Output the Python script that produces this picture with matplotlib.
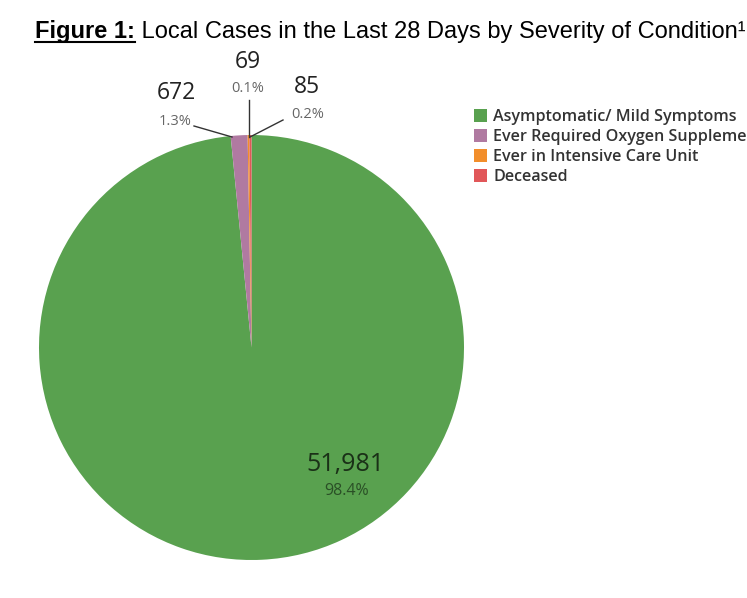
import matplotlib
matplotlib.use("Agg")
import matplotlib.pyplot as plt
from matplotlib.patches import Patch

categories = ["Asymptomatic/ Mild Symptoms", "Ever Required Oxygen Supplementation",
              "Ever in Intensive Care Unit", "Deceased"]
cases = [51981, 672, 69, 85]
pct_labels = ["98.4%", "1.3%", "0.1%", "0.2%"]
colors = ["#59a14f", "#b07aa1", "#f28e2b", "#e15759"]

W, H = 747, 598
fig = plt.figure(figsize=(W / 100, H / 100), dpi=100)

# pie axes, pixel box of the circle
cx, cy, r = 251.5, 347.5, 212.5
ax = fig.add_axes([(cx - r) / W, (H - cy - r) / H, 2 * r / W, 2 * r / H])
ax.pie(cases, colors=colors, startangle=90, counterclock=False, radius=1,
       wedgeprops=dict(linewidth=0))
ax.set_xlim(-1, 1)
ax.set_ylim(-1, 1)
ax.set_aspect("equal")
ax.axis("off")


def px(x, y):
    return ((x - cx) / r, (cy - y) / r)


lab_font = "Open Sans"
# big green label
ax.text(*px(345, 464), f"{cases[0]:,}", ha="center", va="center",
        fontsize=18, color="#1a3017", family=lab_font)
ax.text(*px(347, 491), pct_labels[0], ha="center", va="center",
        fontsize=11.5, color="#2a4f26", family=lab_font)

# outside labels: (value pos, pct pos, leader start, leader end)
outside = [
    (1, (176, 93), (175, 121), (194, 126), (232, 137)),
    (2, (248, 62), (248, 89), (249, 100), (249, 137)),
    (3, (307, 87), (308, 114), (283, 120), (250, 137)),
]
for i, vpos, ppos, l0, l1 in outside:
    ax.text(*px(*vpos), f"{cases[i]:,}", ha="center", va="center",
            fontsize=16.5, color="#222222", family=lab_font, clip_on=False)
    ax.text(*px(*ppos), pct_labels[i], ha="center", va="center",
            fontsize=10.5, color="#666666", family=lab_font, clip_on=False)
    x0, y0 = px(*l0)
    x1, y1 = px(*l1)
    ax.plot([x0, x1], [y0, y1], color="#333333", lw=1, clip_on=False)

# legend
handles = [Patch(facecolor=c, edgecolor="none") for c in colors]
fig.legend(handles, categories, loc="upper left",
           bbox_to_anchor=(466 / W, 1 - 101 / H), frameon=False,
           handlelength=0.8, handleheight=0.8, handletextpad=0.4,
           labelspacing=0.25, borderpad=0,
           prop=dict(family="Open Sans", size=11.6, weight="semibold"),
           labelcolor="#333333")

# title with underlined "Figure 1:"
ty = 1 - 38 / H
t1 = fig.text(35 / W, ty, "Figure 1:", fontsize=17, weight="bold",
              family="Liberation Sans", va="baseline", color="black")
fig.canvas.draw()
bb = t1.get_window_extent()
fig.text(bb.x1 / W, ty, " Local Cases in the Last 28 Days by Severity of Condition\u00b9",
         fontsize=17, family="Liberation Sans", va="baseline", color="black")
uy = ty - 4 / H
fig.add_artist(plt.Line2D([bb.x0 / W, bb.x1 / W], [uy, uy], color="black", lw=1.5))

fig.savefig("out.png", dpi=100)
